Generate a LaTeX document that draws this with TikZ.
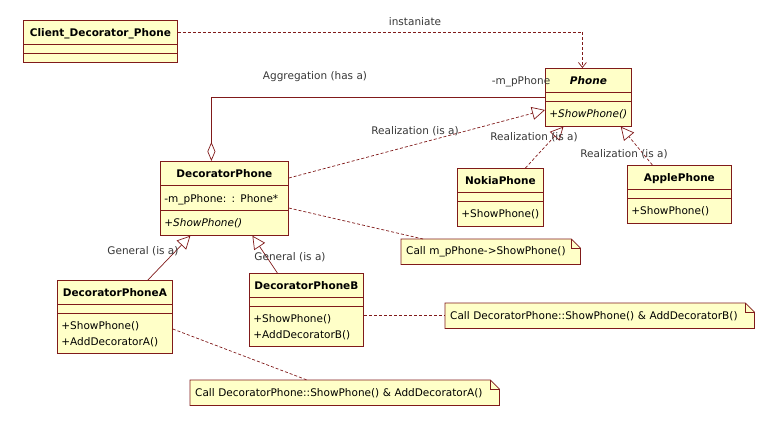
\documentclass[tikz,border=0pt]{standalone}
\usepackage{fontspec}
\setmainfont{DejaVu Sans}
\usetikzlibrary{shapes.multipart,arrows.meta,calc,backgrounds}

\definecolor{umlfill}{RGB}{255,255,200}
\definecolor{umlline}{RGB}{128,26,26}
\definecolor{umltext}{RGB}{55,55,55}

\newcommand{\hd}[1]{\rule[-8pt]{0pt}{23.5pt}\hfill\textbf{#1}\hfill\null}
\newcommand{\op}[1]{\rule[-8pt]{0pt}{24pt}#1}
\newcommand{\ops}[2]{\rule{0pt}{16pt}#1\\[3.5pt]#2\rule[-8pt]{0pt}{0pt}}
\newcommand{\gap}{\rule{0pt}{8pt}}

\tikzset{
    umlclass/.style={rectangle split, rectangle split parts=3, draw=umlline, fill=umlfill,
        line width=0.8pt, inner xsep=4pt, inner ysep=0pt, anchor=north west,
        font=\fontsize{10.5}{12}\selectfont},
    note/.style={anchor=north west, inner xsep=5pt, inner ysep=0pt, minimum height=25pt,
        align=left, font=\fontsize{10.5}{12}\selectfont},
    lbl/.style={text=umltext, inner sep=1pt, font=\fontsize{10.5}{12}\selectfont},
    dep/.style={draw=umlline, line width=0.7pt, dash pattern=on 3pt off 2pt,
        -{Straight Barb[length=5pt,width=8pt]}},
    realize/.style={draw=umlline, line width=0.7pt, dash pattern=on 3pt off 2pt,
        -{Triangle[open,length=13pt,width=13pt]}},
    general/.style={draw=umlline, line width=0.7pt, -{Triangle[open,length=13pt,width=13pt]}},
    agg/.style={draw=umlline, line width=0.7pt, -{Diamond[open,length=19pt,width=8pt]}},
    link/.style={draw=umlline, line width=0.7pt, dash pattern=on 3pt off 2pt}
}

\begin{document}
\begin{tikzpicture}[x=1pt,y=-1pt]
    \useasboundingbox (0,0) rectangle (770,421);

    \node[umlclass, text width=146pt] (client) at (23,20)
        {\hd{Client\_Decorator\_Phone}\nodepart{two}\gap\nodepart{three}\gap};
    \node[umlclass, text width=78pt] (phone) at (545,68)
        {\hd{\itshape Phone}\nodepart{two}\gap\nodepart{three}\op{\itshape +ShowPhone()}};
    \node[umlclass, text width=120pt] (dec) at (160,161)
        {\hd{DecoratorPhone}\nodepart{two}\op{-m\_pPhone: : Phone*}\nodepart{three}\op{\itshape +ShowPhone()}};
    \node[umlclass, text width=78pt] (nokia) at (457,168)
        {\hd{NokiaPhone}\nodepart{two}\gap\nodepart{three}\op{+ShowPhone()}};
    \node[umlclass, text width=96pt] (apple) at (627,165)
        {\hd{ApplePhone}\nodepart{two}\gap\nodepart{three}\op{+ShowPhone()}};
    \node[umlclass, text width=107pt] (deca) at (57,280)
        {\hd{DecoratorPhoneA}\nodepart{two}\gap\nodepart{three}\ops{+ShowPhone()}{+AddDecoratorA()}};
    \node[umlclass, text width=106pt] (decb) at (249,273)
        {\hd{DecoratorPhoneB}\nodepart{two}\gap\nodepart{three}\ops{+ShowPhone()}{+AddDecoratorB()}};

    \node[note, text width=169pt] (n1) at (401,239) {Call m\_pPhone->ShowPhone()};
    \node[note, text width=299pt] (n2) at (445,303) {Call DecoratorPhone::ShowPhone() \& AddDecoratorB()};
    \node[note, text width=299pt] (n3) at (190,380) {Call DecoratorPhone::ShowPhone() \& AddDecoratorA()};

    \begin{scope}[on background layer]
        \foreach \n in {n1,n2,n3} {
            \filldraw[draw=umlline, fill=umlfill, line width=0.8pt] (\n.north west)
                -- ([xshift=-9pt]\n.north east) -- ([yshift=-9pt]\n.north east)
                -- (\n.south east) -- (\n.south west) -- cycle;
            \draw[umlline, line width=0.8pt] ([xshift=-9pt]\n.north east) |- ([yshift=-9pt]\n.north east);
        }
    \end{scope}

    \draw[dep] (client.north east) ++(0,12) -| ([xshift=-6pt]phone.north);
    \node[lbl] (lins) at (415,22) {instaniate};

    \draw[agg] (phone.north west) ++(0,29) -| ([xshift=-13pt]dec.north);
    \node[lbl] (lagg) at (315,77) {Aggregation (has a)};
    \node[lbl] (lrole) at (521,82) {-m\_pPhone};

    \draw[realize] ($(dec.north east)+(0,17)$) -- ($(phone.north west)+(0,42)$);
    \node[lbl] (lr1) at (415,131) {Realization (is a)};
    \draw[realize] ([xshift=25pt]nokia.north) -- ([xshift=-25pt]phone.south);
    \node[lbl] (lr2) at (534,137) {Realization (is a)};
    \draw[realize] ([xshift=-27pt]apple.north) -- ([xshift=-11pt]phone.south east);
    \node[lbl] (lr3) at (624,154) {Realization (is a)};

    \draw[general] ([xshift=33pt]deca.north) -- ([xshift=-34pt]dec.south);
    \node[lbl] (lg1) at (143,251) {General (is a)};
    \draw[general] ([xshift=-29pt]decb.north) -- ([xshift=28pt]dec.south);
    \node[lbl] (lg2) at (290,257) {General (is a)};

    \draw[link] ($(dec.north east)+(0,47)$) -- ([xshift=22pt]n1.north west);
    \draw[link] (decb.east |- n2.west) -- (n2.west);
    \draw[link] ($(deca.north east)+(0,49)$) -- ([xshift=117pt]n3.north west);
\end{tikzpicture}
\end{document}
